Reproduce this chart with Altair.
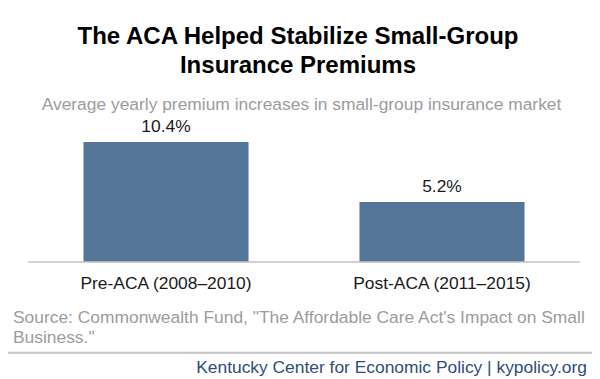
import altair as alt
import pandas as pd

# ---- data ----
categories = ["Pre-ACA (2008–2010)", "Post-ACA (2011–2015)"]
values = [10.4, 5.2]
value_labels = ["10.4%", "5.2%"]

title_lines = ["The ACA Helped Stabilize Small-Group", "Insurance Premiums"]
subtitle = "Average yearly premium increases in small-group insurance market"
source_lines = [
    "Source: Commonwealth Fund, \"The Affordable Care Act's Impact on Small",
    "Business.\"",
]
footer = "Kentucky Center for Economic Policy | kypolicy.org"

# ---- layout ----
W, H = 584, 371
FONT = "Liberation Sans"
FS = 17.4
BAR = "#557699"
GRAY_TXT = "#9c9c9c"
RULE = "#c3c3c3"

df = pd.DataFrame({"cat": categories, "val": values, "lab": value_labels})

x_enc = alt.X(
    "cat:N", sort=categories, axis=None,
    scale=alt.Scale(range=[20, 572], paddingInner=0.402, paddingOuter=0.201),
)
y_scale = alt.Scale(domain=[-10.14, 22.013], nice=False, zero=False)
y_enc = alt.Y("val:Q", axis=None, scale=y_scale)

bars = alt.Chart(df).mark_bar(color=BAR).encode(x=x_enc, y=y_enc, y2=alt.datum(0))

vlabels = alt.Chart(df).mark_text(
    font=FONT, fontSize=FS, color="#1a1a1a", baseline="alphabetic", dy=-10
).encode(x=x_enc, y=y_enc, text="lab:N")

axis_rule = alt.Chart(alt.Data(values=[{}])).mark_rule(
    color=RULE, strokeWidth=1.6
).encode(x=alt.value(20), x2=alt.value(572),
         y=alt.Y(datum=0, type="quantitative", scale=y_scale, axis=None))

cat_labels = alt.Chart(df).mark_text(
    font=FONT, fontSize=FS, color="#1a1a1a", baseline="alphabetic"
).encode(x=x_enc, y=alt.value(281), text="cat:N")


def annot(text, xpos, ypos, align="center", size=FS, color="#000000", weight="normal"):
    return alt.Chart(alt.Data(values=[{}])).mark_text(
        text=text, font=FONT, fontSize=size, color=color, fontWeight=weight,
        align=align, baseline="alphabetic",
    ).encode(x=alt.value(xpos), y=alt.value(ypos))


t1 = annot(title_lines[0], 290, 36, size=24, weight="bold")
t2 = annot(title_lines[1], 290, 65, size=24, weight="bold")
sub = annot(subtitle, 293.5, 102, color=GRAY_TXT)
s1 = annot(source_lines[0], 5, 314.5, align="left", color=GRAY_TXT)
s2 = annot(source_lines[1], 5, 335, align="left", color=GRAY_TXT)
foot = annot(footer, 579, 365.3, align="right", color="#2f4c7c")

sep = alt.Chart(alt.Data(values=[{}])).mark_rule(
    color=RULE, strokeWidth=2
).encode(x=alt.value(0), x2=alt.value(W), y=alt.value(344.7))

chart = alt.layer(
    bars, axis_rule, vlabels, cat_labels, t1, t2, sub, s1, s2, sep, foot
).properties(
    width=W, height=H, autosize="none", padding=0
).configure_view(stroke=None)

chart.save("out.html", embed_options={"renderer": "svg", "actions": False})
